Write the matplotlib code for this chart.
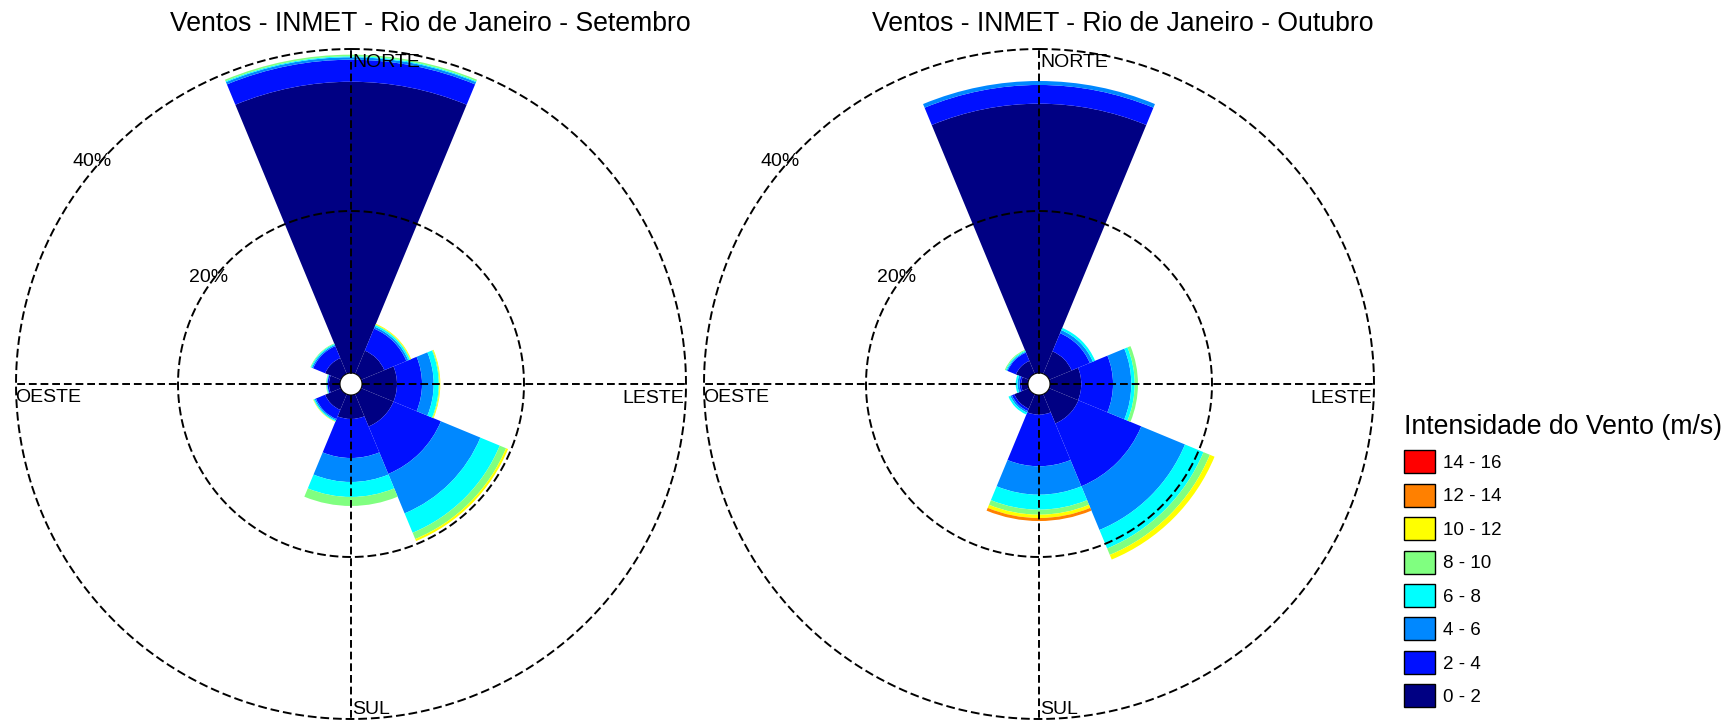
import numpy as np
import matplotlib
matplotlib.use('Agg')
import matplotlib.pyplot as plt
from matplotlib.patches import Patch, Circle

plt.rcParams['font.family'] = ['Liberation Sans', 'DejaVu Sans']

# ---------------- data ----------------
directions = ['N', 'NE', 'E', 'SE', 'S', 'SW', 'W', 'NW']
direction_deg = [0, 45, 90, 135, 180, 225, 270, 315]
speed_bins = ['0 - 2', '2 - 4', '4 - 6', '6 - 8', '8 - 10', '10 - 12', '12 - 14', '14 - 16']
bin_colors = ['#000083', '#0010FF', '#0088FF', '#00FFFF',
              '#80FF80', '#FFFF00', '#FF8000', '#FF0000']

# Setembro: frequency (%) per direction, one list per speed class
set_00_02 = [35.96, 3.10, 4.32, 4.32, 2.96, 2.10, 1.36, 2.10]
set_02_04 = [2.72, 2.95, 3.09, 6.34, 4.82, 1.23, 0.18, 1.60]
set_04_06 = [0.30, 0.25, 1.44, 5.27, 2.96, 0.16, 0.06, 0.16]
set_06_08 = [0.12, 0.20, 0.62, 2.59, 1.85, 0.13, 0.07, 0.13]
set_08_10 = [0.20, 0.08, 0.10, 0.84, 1.11, 0.04, 0.06, 0.08]
set_10_12 = [0.00, 0.10, 0.10, 0.27, 0.00, 0.04, 0.00, 0.00]
set_12_14 = [0.00, 0.00, 0.00, 0.00, 0.00, 0.00, 0.00, 0.00]
set_14_16 = [0.00, 0.00, 0.00, 0.00, 0.00, 0.00, 0.00, 0.00]

# Outubro
out_00_02 = [33.25, 3.00, 3.86, 3.91, 2.43, 1.94, 0.83, 1.73]
out_02_04 = [2.31, 2.43, 3.92, 8.40, 6.37, 0.32, 0.22, 1.11]
out_04_06 = [0.49, 0.41, 2.26, 5.84, 3.51, 0.21, 0.25, 0.12]
out_06_08 = [0.00, 0.30, 0.42, 2.47, 1.85, 0.25, 0.22, 0.13]
out_08_10 = [0.00, 0.00, 0.40, 0.86, 0.62, 0.00, 0.00, 0.12]
out_10_12 = [0.00, 0.00, 0.00, 0.62, 0.41, 0.00, 0.00, 0.00]
out_12_14 = [0.00, 0.00, 0.00, 0.00, 0.37, 0.00, 0.00, 0.00]
out_14_16 = [0.00, 0.00, 0.00, 0.00, 0.00, 0.00, 0.00, 0.00]

ring_values = [20, 40]
ring_labels = ['20%', '40%']
cardinal_labels = ['NORTE', 'LESTE', 'SUL', 'OESTE']
titles = ['Ventos - INMET - Rio de Janeiro - Setembro',
          'Ventos - INMET - Rio de Janeiro - Outubro']
legend_title = 'Intensidade do Vento (m/s)'

# ---------------- figure ----------------
W, H = 1731, 721
fig = plt.figure(figsize=(W / 100, H / 100), dpi=100)

R_PX = 335.0          # pixel radius of the 40% ring
SIDE = 2 * R_PX
RMAX = 40.0
RORIGIN = -1.358
LS_RING = (0, (4.5, 2.0))
LS_AXIS = (0, (4.0, 2.0))
FS_LAB = 14


def rose(cx, cy, bins, title, title_x):
    ax = fig.add_axes([(cx - R_PX) / W, (H - cy - R_PX) / H, SIDE / W, SIDE / H],
                      projection='polar')
    ax.set_theta_zero_location('N')
    ax.set_theta_direction(-1)
    theta = np.deg2rad(direction_deg)
    width = 2 * np.pi / len(directions)
    bottom = np.zeros(len(directions))
    for vals, color in zip(bins, bin_colors):
        vals = np.asarray(vals, dtype=float)
        ax.bar(theta, vals, width=width, bottom=bottom, color=color,
               edgecolor='none', linewidth=0, align='center', zorder=2)
        bottom = bottom + vals
    ax.set_rlim(0, RMAX)
    ax.set_rorigin(RORIGIN)
    ax.grid(False)
    ax.set_xticks([])
    ax.set_yticks([])
    ax.spines['polar'].set_visible(False)
    ax.patch.set_alpha(0)

    tc = np.linspace(0, 2 * np.pi, 721)
    for rv in ring_values:
        ax.plot(tc, np.full_like(tc, rv), color='k', lw=1.4, ls=LS_RING,
                clip_on=False, zorder=4)
    for ang in [0, 90, 180, 270]:
        a = np.deg2rad(ang)
        ax.plot([a, a], [0, RMAX], color='k', lw=1.4, ls=LS_AXIS,
                clip_on=False, zorder=4)
    ax.add_patch(Circle((0.5, 0.5), 10.5 / SIDE, transform=ax.transAxes,
                        facecolor='white', edgecolor='none', zorder=6))

    # cardinal labels (pixel offsets from the centre)
    def px(dx, dy):
        return 0.5 + dx / SIDE, 0.5 - dy / SIDE
    x, y = px(1, -317)
    ax.text(x, y, cardinal_labels[0], transform=ax.transAxes, ha='left',
            va='baseline', fontsize=FS_LAB, zorder=7, clip_on=False)
    x, y = px(333, 18.5)
    ax.text(x, y, cardinal_labels[1], transform=ax.transAxes, ha='right',
            va='baseline', fontsize=FS_LAB, zorder=7, clip_on=False)
    x, y = px(1, 330)
    ax.text(x, y, cardinal_labels[2], transform=ax.transAxes, ha='left',
            va='baseline', fontsize=FS_LAB, zorder=7, clip_on=False)
    x, y = px(-336, 18)
    ax.text(x, y, cardinal_labels[3], transform=ax.transAxes, ha='left',
            va='baseline', fontsize=FS_LAB, zorder=7, clip_on=False)

    # ring labels
    ax.text(np.deg2rad(306.7), 20.65, ring_labels[0], ha='center', va='center',
            fontsize=FS_LAB, zorder=7, clip_on=False)
    ax.text(np.deg2rad(310.6), 40.8, ring_labels[1], ha='center', va='center',
            fontsize=FS_LAB, zorder=7, clip_on=False)

    fig.text(title_x / W, 1 - 31 / H, title, ha='center', va='baseline',
             fontsize=19.2)
    return ax


set_bins = [set_00_02, set_02_04, set_04_06, set_06_08,
            set_08_10, set_10_12, set_12_14, set_14_16]
out_bins = [out_00_02, out_02_04, out_04_06, out_06_08,
            out_08_10, out_10_12, out_12_14, out_14_16]

rose(351, 384, set_bins, titles[0], 430.5)
rose(1039, 384, out_bins, titles[1], 1123)

handles = [Patch(facecolor=c, edgecolor='black', linewidth=1.0) for c in bin_colors]
fig.legend(handles[::-1], speed_bins[::-1], loc='upper left',
           bbox_to_anchor=(1404 / W, 1 - 414 / H), frameon=False,
           title=legend_title, title_fontsize=19.2, fontsize=13.5,
           handlelength=1.65, handleheight=1.51, handletextpad=0.43,
           labelspacing=0.555, borderaxespad=0, borderpad=0,
           alignment='left')

fig.savefig('out.png', dpi=100)
